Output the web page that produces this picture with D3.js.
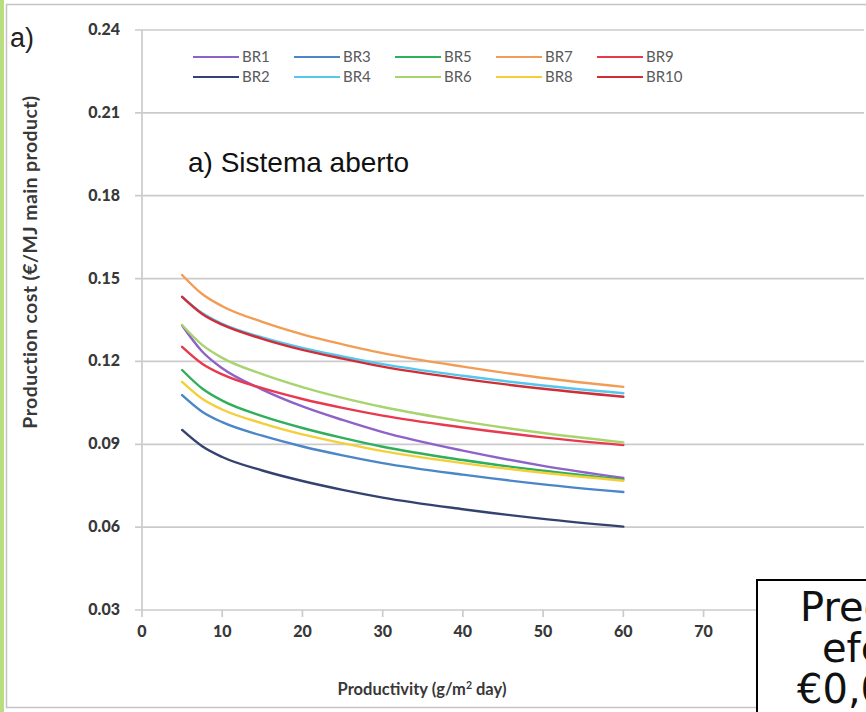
<!DOCTYPE html>
<html>
<head>
<meta charset="utf-8">
<script src="https://cdn.jsdelivr.net/npm/d3@7/dist/d3.min.js"></script>
<style>
  html, body { margin: 0; padding: 0; background: #fff; }
  svg { display: block; }
</style>
</head>
<body>
<svg id="chart" width="866" height="712"></svg>
<script>
// Productivity (g/m² day) at which each biorefinery cost was evaluated
const productivity = [5, 7.5, 10, 15, 20, 25, 30, 40, 50, 60];

// Production cost (€/MJ main product) per biorefinery
const BR1  = [0.1330, 0.1236, 0.1175, 0.1098, 0.1037, 0.0988, 0.0944, 0.0877, 0.0822, 0.0778];
const BR2  = [0.0952, 0.0893, 0.0854, 0.0805, 0.0767, 0.0735, 0.0707, 0.0665, 0.0630, 0.0602];
const BR3  = [0.1078, 0.1018, 0.0980, 0.0931, 0.0892, 0.0860, 0.0832, 0.0790, 0.0755, 0.0727];
const BR4  = [0.1434, 0.1375, 0.1336, 0.1287, 0.1249, 0.1218, 0.1190, 0.1148, 0.1113, 0.1085];
const BR5  = [0.1169, 0.1102, 0.1058, 0.1002, 0.0959, 0.0923, 0.0891, 0.0843, 0.0804, 0.0772];
const BR6  = [0.1332, 0.1260, 0.1213, 0.1154, 0.1107, 0.1068, 0.1035, 0.0983, 0.0941, 0.0907];
const BR7  = [0.1513, 0.1444, 0.1400, 0.1343, 0.1298, 0.1262, 0.1230, 0.1181, 0.1140, 0.1108];
const BR8  = [0.1126, 0.1065, 0.1026, 0.0976, 0.0936, 0.0904, 0.0875, 0.0832, 0.0797, 0.0768];
const BR9  = [0.1253, 0.1192, 0.1153, 0.1103, 0.1064, 0.1032, 0.1004, 0.0961, 0.0925, 0.0897];
const BR10 = [0.1434, 0.1372, 0.1333, 0.1282, 0.1242, 0.1210, 0.1181, 0.1137, 0.1101, 0.1072];

const seriesNames = ["BR1", "BR2", "BR3", "BR4", "BR5", "BR6", "BR7", "BR8", "BR9", "BR10"];
const seriesValues = [BR1, BR2, BR3, BR4, BR5, BR6, BR7, BR8, BR9, BR10];
const seriesColors = ["#8d62c9", "#34426f", "#4a86c8", "#55c6ec", "#2fae5c",
                      "#a7d46f", "#f29d55", "#f4cf3a", "#e8394f", "#cf2e37"];

const yTicks = [0.03, 0.06, 0.09, 0.12, 0.15, 0.18, 0.21, 0.24];
const xTicks = [0, 10, 20, 30, 40, 50, 60, 70];

const svg = d3.select("#chart");
const W = 866, H = 712;

svg.append("rect").attr("width", W).attr("height", H).attr("fill", "#fff");

// outer frame of the figure panel
svg.append("rect").attr("x", 0).attr("y", 0).attr("width", 4).attr("height", H).attr("fill", "#b8de7f");
svg.append("rect").attr("x", 6.5).attr("y", 4.5).attr("width", W + 10).attr("height", 703)
  .attr("fill", "none").attr("stroke", "#c4c4c4").attr("stroke-width", 1.5);

const x = d3.scaleLinear().domain([0, 90]).range([142, 864]);
const y = d3.scaleLinear().domain([0.03, 0.24]).range([610, 30]);

// horizontal gridlines with left tick marks
svg.append("g").selectAll("line").data(yTicks).join("line")
  .attr("x1", 135).attr("x2", x(90))
  .attr("y1", d => y(d)).attr("y2", d => y(d))
  .attr("stroke", "#cbcbcb").attr("stroke-width", 1.7);

// value axis line
svg.append("line").attr("x1", x(0)).attr("x2", x(0)).attr("y1", y(0.24)).attr("y2", y(0.03))
  .attr("stroke", "#cbcbcb").attr("stroke-width", 1.7);

// x tick marks
svg.append("g").selectAll("line").data(xTicks).join("line")
  .attr("x1", d => x(d)).attr("x2", d => x(d))
  .attr("y1", y(0.03)).attr("y2", y(0.03) + 7)
  .attr("stroke", "#cbcbcb").attr("stroke-width", 1.7);

const tickFont = "Lato, 'DejaVu Sans', sans-serif";

svg.append("g").selectAll("text").data(yTicks).join("text")
  .attr("x", 120).attr("y", d => y(d) + 5)
  .attr("text-anchor", "end")
  .attr("font-family", tickFont).attr("font-weight", 900).attr("font-size", 16)
  .attr("fill", "#383838")
  .text(d => d.toFixed(2));

svg.append("g").selectAll("text").data(xTicks).join("text")
  .attr("x", d => x(d)).attr("y", 637)
  .attr("text-anchor", "middle")
  .attr("font-family", tickFont).attr("font-weight", 900).attr("font-size", 16)
  .attr("fill", "#383838")
  .text(d => d);

// axis titles
const xt = svg.append("text")
  .attr("x", 422).attr("y", 695).attr("text-anchor", "middle")
  .attr("font-family", tickFont).attr("font-weight", 700).attr("font-size", 16.5)
  .attr("fill", "#383838");
xt.append("tspan").text("Productivity (g/m");
xt.append("tspan").attr("dy", -6).attr("font-size", 10.5).text("2");
xt.append("tspan").attr("dy", 6).text(" day)");

svg.append("text")
  .attr("transform", "translate(37,262) rotate(-90)")
  .attr("text-anchor", "middle")
  .attr("font-family", tickFont).attr("font-weight", 700).attr("font-size", 19.5)
  .attr("letter-spacing", 0.4)
  .attr("fill", "#383838")
  .text("Production cost (€/MJ main product)");

// panel letter and title
svg.append("text").attr("x", 10).attr("y", 47)
  .attr("font-family", "Arial, 'Liberation Sans', sans-serif").attr("font-size", 27)
  .attr("fill", "#222").text("a)");

svg.append("text").attr("x", 188).attr("y", 172)
  .attr("font-family", "Arial, 'Liberation Sans', sans-serif").attr("font-size", 28)
  .attr("fill", "#111").text("a) Sistema aberto");

// cost curves
const line = d3.line()
  .x((d, i) => x(productivity[i]))
  .y(d => y(d))
  .curve(d3.curveMonotoneX);

svg.append("g").selectAll("path").data(seriesValues).join("path")
  .attr("d", d => line(d))
  .attr("fill", "none")
  .attr("stroke", (d, i) => seriesColors[i])
  .attr("stroke-width", 2.4)
  .attr("stroke-linecap", "round");

// legend: two rows, five columns
const legendItems = seriesNames.map((name, i) => ({
  name, color: seriesColors[i], col: Math.floor(i / 2), row: i % 2
}));
const lg = svg.append("g").selectAll("g").data(legendItems).join("g")
  .attr("transform", d => `translate(${193 + d.col * 101},${57 + d.row * 20})`);
lg.append("line").attr("x1", 0).attr("x2", 46).attr("y1", 0).attr("y2", 0)
  .attr("stroke", d => d.color).attr("stroke-width", 2.2);
lg.append("text").attr("x", 49).attr("y", 5)
  .attr("font-family", tickFont).attr("font-size", 15)
  .attr("fill", "#5a5a5a")
  .text(d => d.name);

// annotation box in the lower right corner
svg.append("rect").attr("x", 757).attr("y", 580).attr("width", 140).attr("height", 160)
  .attr("fill", "#fff").attr("stroke", "#000").attr("stroke-width", 2);
const boxFont = "'DejaVu Sans', 'Century Gothic', sans-serif";
const boxLines = [
  { t: "Preço", x: 800, y: 621 },
  { t: "efetivo", x: 822, y: 662 },
  { t: "€0,06", x: 797, y: 703 }
];
svg.append("g").selectAll("text").data(boxLines).join("text")
  .attr("x", d => d.x).attr("y", d => d.y)
  .attr("font-family", boxFont).attr("font-size", 40)
  .attr("fill", "#111")
  .text(d => d.t);
</script>
</body>
</html>
